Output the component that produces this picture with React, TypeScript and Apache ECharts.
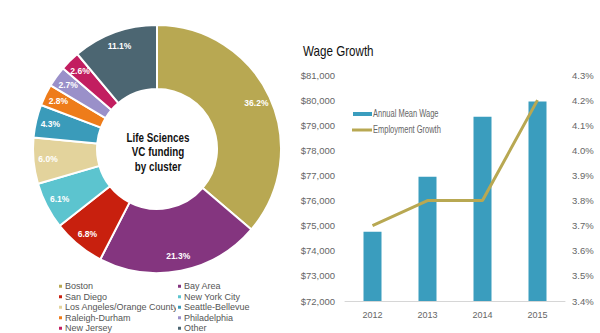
import React, { useEffect, useRef } from "react";
import * as echarts from "echarts";

const clusters = [
  "Boston",
  "Bay Area",
  "San Diego",
  "New York City",
  "Los Angeles/Orange County",
  "Seattle-Bellevue",
  "Raleigh-Durham",
  "Philadelphia",
  "New Jersey",
  "Other",
];
const funding = [36.2, 21.3, 6.8, 6.1, 6.0, 4.3, 2.8, 2.7, 2.6, 11.1];
const clusterColors = [
  "#B8A852",
  "#84357F",
  "#C8200E",
  "#5CC4CF",
  "#E3D39C",
  "#3A9BBA",
  "#EE7C1A",
  "#9A90C9",
  "#C21E60",
  "#4C6672",
];
const legendCol1 = ["Boston", "San Diego", "Los Angeles/Orange County", "Raleigh-Durham", "New Jersey"];
const legendCol2 = ["Bay Area", "New York City", "Seattle-Bellevue", "Philadelphia", "Other"];

const years = ["2012", "2013", "2014", "2015"];
const meanWage = [74760, 76950, 79340, 79940];
const employmentGrowth = [3.7, 3.8, 3.8, 4.2];
const wageSeriesName = "Annual Mean Wage";
const growthSeriesName = "Employment Growth";

const FONT = "'Liberation Sans', Arial, sans-serif";
const BAR_COLOR = "#3A9DBE";
const LINE_COLOR = "#B8A852";

export default function App() {
  const ref = useRef<HTMLDivElement>(null);
  useEffect(() => {
    if (!ref.current) return;
    const chart = echarts.init(ref.current, undefined, { renderer: "svg" });
    const pieData = clusters.map((n, i) => ({
      name: n,
      value: funding[i],
      itemStyle: { color: clusterColors[i] },
    }));
    const labelData = clusters.map((n, i) => ({ name: "lbl-" + n, value: funding[i] }));
    const legendCommon = {
      orient: "vertical" as const,
      icon: "rect",
      itemWidth: 5,
      itemHeight: 5,
      itemGap: 0,
      height: 70,
      textStyle: { fontFamily: FONT, fontSize: 9, color: "#555", lineHeight: 10.5, padding: [0, 0, 0, -3] },
      padding: 0,
      selectedMode: false,
    };
    chart.setOption({
      animation: false,
      textStyle: { fontFamily: FONT },
      legend: [
        { ...legendCommon, data: legendCol1, left: 57, top: 281 },
        { ...legendCommon, data: legendCol2, left: 176, top: 281 },
      ],
      grid: { left: 345, right: 35, top: 75, bottom: 32 },
      xAxis: {
        type: "category",
        data: years,
        axisLine: { lineStyle: { color: "#d6d6d6", width: 1 } },
        axisTick: { show: false },
        axisLabel: { color: "#666", fontSize: 9, margin: 9 },
      },
      yAxis: [
        {
          type: "value",
          min: 72000,
          max: 81000,
          interval: 1000,
          splitLine: { show: false },
          axisLine: { show: false },
          axisTick: { show: false },
          axisLabel: {
            color: "#666",
            fontSize: 9.5,
            margin: 10,
            formatter: (v: number) => "$" + v.toLocaleString("en-US"),
          },
        },
        {
          type: "value",
          min: 34,
          max: 43,
          interval: 1,
          position: "right",
          splitLine: { show: false },
          axisLine: { show: false },
          axisTick: { show: false },
          axisLabel: {
            color: "#666",
            fontSize: 9.5,
            margin: 7,
            formatter: (v: number) => (v / 10).toFixed(1) + "%",
          },
        },
      ],
      graphic: [
        {
          type: "text",
          x: 158,
          y: 130,
          scaleX: 0.82,
          style: {
            text: "Life Sciences\nVC funding\nby cluster",
            fontFamily: FONT,
            fontSize: 12,
            fontWeight: "bold",
            fill: "#111",
            lineHeight: 14.5,
            align: "center",
          },
        },
        {
          type: "text",
          x: 303,
          y: 51,
          scaleX: 0.83,
          style: {
            text: "Wage Growth",
            fontFamily: FONT,
            fontSize: 14,
            fill: "#111",
            verticalAlign: "middle",
          },
        },
        {
          type: "rect",
          shape: { x: 353, y: 112, width: 19, height: 4 },
          style: { fill: BAR_COLOR },
        },
        {
          type: "line",
          shape: { x1: 352, y1: 130, x2: 372, y2: 130 },
          style: { stroke: LINE_COLOR, lineWidth: 3 },
        },
        {
          type: "text",
          x: 373,
          y: 114,
          scaleX: 0.75,
          style: { text: wageSeriesName, fontFamily: FONT, fontSize: 10, fill: "#666", verticalAlign: "middle" },
        },
        {
          type: "text",
          x: 373,
          y: 130,
          scaleX: 0.75,
          style: { text: growthSeriesName, fontFamily: FONT, fontSize: 10, fill: "#666", verticalAlign: "middle" },
        },
      ],
      series: [
        {
          type: "pie",
          center: [157, 149],
          radius: [60, 124],
          startAngle: 90,
          clockwise: true,
          data: pieData,
          label: { show: false },
          labelLine: { show: false },
          itemStyle: { borderColor: "#fff", borderWidth: 2 },
          emphasis: { disabled: true },
          silent: true,
        },
        {
          type: "pie",
          center: [157, 149],
          radius: [89, 124],
          startAngle: 90,
          clockwise: true,
          data: labelData,
          itemStyle: { color: "rgba(0,0,0,0)" },
          label: {
            show: true,
            position: "inside",
            color: "#fff",
            fontFamily: FONT,
            fontSize: 8.5,
            fontWeight: "bold",
            formatter: (p: any) => Number(p.value).toFixed(1) + "%",
          },
          labelLine: { show: false },
          emphasis: { disabled: true },
          silent: true,
        },
        {
          name: wageSeriesName,
          type: "bar",
          data: meanWage,
          barWidth: 18,
          itemStyle: { color: BAR_COLOR },
          yAxisIndex: 0,
        },
        {
          name: growthSeriesName,
          type: "line",
          data: employmentGrowth.map((v) => v * 10),
          yAxisIndex: 1,
          symbol: "none",
          lineStyle: { color: LINE_COLOR, width: 3 },
          itemStyle: { color: LINE_COLOR },
        },
      ],
    });
    return () => chart.dispose();
  }, []);
  return (
    <div
      ref={ref}
      style={{ position: "fixed", left: 0, top: 0, width: 600, height: 333, background: "#fff" }}
    />
  );
}
